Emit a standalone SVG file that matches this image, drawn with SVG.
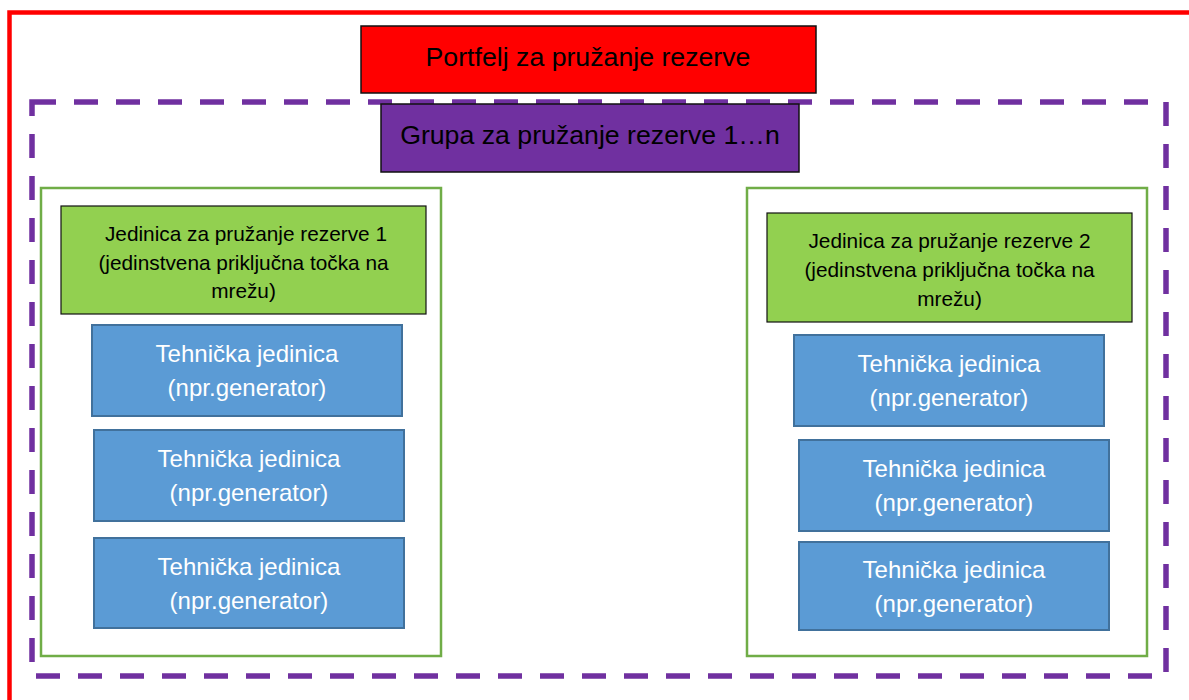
<svg xmlns="http://www.w3.org/2000/svg" width="1189" height="700" viewBox="0 0 1189 700">
<style>
text{font-family:"Liberation Sans",Arial,sans-serif;text-anchor:middle}
.frame{fill:none;stroke:#FF0000;stroke-width:4.5}
.grp{fill:none;stroke:#7030A0;stroke-width:5.5;stroke-dasharray:24 18}
.cont{fill:#FFFFFF;stroke:#70AD47;stroke-width:2.5}
.red{fill:#FF0000;stroke:#111;stroke-width:1.5}
.pur{fill:#7030A0;stroke:#111;stroke-width:1.5}
.grn{fill:#92D050;stroke:#111;stroke-width:1.2}
.blu{fill:#5B9BD5;stroke:#41719C;stroke-width:2}
.t26{font-size:26.7px;fill:#000}
.t20{font-size:20.8px;fill:#000}
.tw{font-size:24px;fill:#FFFFFF}
</style>
<rect width="1189" height="700" fill="#FFFFFF"/>
<g id="portfolio-frame"><rect class="frame" x="9.5" y="12.5" width="1200" height="720"/></g>
<g id="group-frame"><rect class="grp" x="32" y="102" width="1134" height="574"/></g>
<g id="portfolio"><rect class="red" x="361" y="26" width="455" height="67"/><text class="t26" x="588" y="65.5">Portfelj za pružanje rezerve</text></g>
<g id="group"><rect class="pur" x="381" y="104" width="418" height="68"/><text class="t26" x="590" y="143.5">Grupa za pružanje rezerve 1…n</text></g>
<g id="container-1"><rect class="cont" x="41" y="188" width="400" height="468"/></g>
<g id="container-2"><rect class="cont" x="747" y="188" width="400" height="468"/></g>
<g id="unit-1"><rect class="grn" x="61" y="206" width="365" height="108"/>
<text class="t20" x="246" y="241">Jedinica za pružanje rezerve 1</text>
<text class="t20" x="243.5" y="269.5">(jedinstvena priključna točka na</text>
<text class="t20" x="243.5" y="298">mrežu)</text></g>
<g id="unit-2"><rect class="grn" x="767" y="213" width="365" height="109"/>
<text class="t20" x="949.5" y="248">Jedinica za pružanje rezerve 2</text>
<text class="t20" x="949.5" y="277">(jedinstvena priključna točka na</text>
<text class="t20" x="949.5" y="306">mrežu)</text></g>
<g id="tech-1a"><rect class="blu" x="92" y="325" width="310" height="91"/><text class="tw" x="247" y="362">Tehnička jedinica</text><text class="tw" x="247" y="396">(npr.generator)</text></g>
<g id="tech-1b"><rect class="blu" x="94" y="430" width="310" height="91"/><text class="tw" x="249" y="467">Tehnička jedinica</text><text class="tw" x="249" y="501">(npr.generator)</text></g>
<g id="tech-1c"><rect class="blu" x="94" y="538" width="310" height="90"/><text class="tw" x="249" y="575">Tehnička jedinica</text><text class="tw" x="249" y="609">(npr.generator)</text></g>
<g id="tech-2a"><rect class="blu" x="794" y="335" width="310" height="91"/><text class="tw" x="949" y="372">Tehnička jedinica</text><text class="tw" x="949" y="406">(npr.generator)</text></g>
<g id="tech-2b"><rect class="blu" x="799" y="440" width="310" height="91"/><text class="tw" x="954" y="477">Tehnička jedinica</text><text class="tw" x="954" y="511">(npr.generator)</text></g>
<g id="tech-2c"><rect class="blu" x="799" y="542" width="310" height="88"/><text class="tw" x="954" y="578">Tehnička jedinica</text><text class="tw" x="954" y="612">(npr.generator)</text></g>
<g id="connectors"></g>
</svg>
